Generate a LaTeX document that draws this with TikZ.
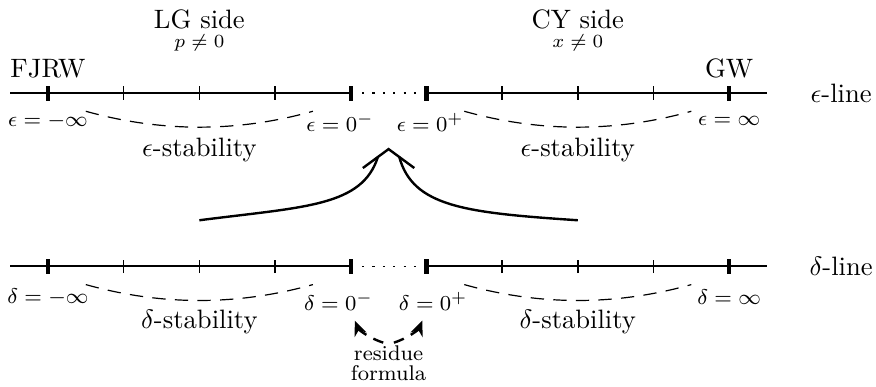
\documentclass[tikz,border=0pt]{standalone}
\usepackage{amsmath,amssymb}
\usepackage{tikz}
\usetikzlibrary{arrows.meta,positioning}
\tikzset{
  axisline/.style={line width=0.7pt},
  bigtick/.style={line width=1.6pt},
  smalltick/.style={line width=0.6pt},
  sidetitle/.style={inner sep=1pt},
  sidecond/.style={font=\scriptsize, inner sep=1pt},
  endlabel/.style={font=\footnotesize, inner sep=1pt},
  stablabel/.style={inner sep=1pt},
  stabarc/.style={line width=0.45pt, dash pattern=on 5pt off 3.5pt},
  gapdots/.style={line width=0.6pt, dash pattern=on 0.8pt off 3.1pt},
  mergecurve/.style={line width=0.9pt},
  resarrow/.style={line width=0.9pt, dash pattern=on 4pt off 3pt, shorten >=3pt, -{Stealth[length=2mm,width=1.7mm]}}
}

\begin{document}
\begin{tikzpicture}[node distance=0.1cm]
\useasboundingbox (-0.634,1.23) rectangle (10.94,-3.87);
\foreach \y in {0,-2.29}{
  \draw[axisline] (-0.5,\y) -- (4,\y);
  \draw[axisline] (5,\y) -- (9.5,\y);
  \draw[gapdots] (4.15,\y) -- (4.87,\y);
  \foreach \x in {0,4,5,9} \draw[bigtick] (\x,\y-0.1) -- (\x,\y+0.1);
  \foreach \x in {1,2,3,6,7,8} \draw[smalltick] (\x,\y-0.09) -- (\x,\y+0.09);
  \draw[stabarc] (0.5,\y-0.24) .. controls (1.5,\y-0.52) and (2.5,\y-0.52) .. (3.5,\y-0.24);
  \draw[stabarc] (5.5,\y-0.24) .. controls (6.5,\y-0.52) and (7.5,\y-0.52) .. (8.5,\y-0.24);
}
\node[sidetitle] (lg) at (2,0.98) {LG side};
\node[sidecond, below=0pt of lg] (lgcond) {$p\neq 0$};
\node[sidetitle] (cy) at (7,0.98) {CY side};
\node[sidecond, below=0pt of cy] (cycond) {$x\neq 0$};
\node[sidetitle, anchor=base] (fjrw) at (0,0.2) {FJRW};
\node[sidetitle, anchor=base] (gw) at (9,0.2) {GW};
\node (epsline) at (10.48,0) {$\epsilon$-line};
\node (delline) at (10.48,-2.29) {$\delta$-line};
\node[endlabel] (epsninf) at (0,-0.37) {$\epsilon=-\infty$};
\node[endlabel] (epszm) at (3.86,-0.39) {$\epsilon=0^-$};
\node[endlabel] (epszp) at (5.05,-0.39) {$\epsilon=0^+$};
\node[endlabel] (epsinf) at (9,-0.37) {$\epsilon=\infty$};
\node[endlabel] (delninf) at (0,-2.70) {$\delta=-\infty$};
\node[endlabel] (delzm) at (3.84,-2.75) {$\delta=0^-$};
\node[endlabel] (delzp) at (5.09,-2.75) {$\delta=0^+$};
\node[endlabel] (delinf) at (9,-2.70) {$\delta=\infty$};
\node[stablabel] (epsstabl) at (2,-0.75) {$\epsilon$-stability};
\node[stablabel] (epsstabr) at (7,-0.75) {$\epsilon$-stability};
\node[stablabel] (delstabl) at (2,-3.03) {$\delta$-stability};
\node[stablabel] (delstabr) at (7,-3.03) {$\delta$-stability};
\coordinate (apex) at (4.5,-0.74);
\coordinate (lfoot) at (2,-1.68);
\coordinate (rfoot) at (7,-1.68);
\coordinate (lhead) at (4.36,-0.84);
\coordinate (rhead) at (4.64,-0.84);
\draw[mergecurve] (lfoot) .. controls (3.4,-1.5) and (4.15,-1.5) .. (lhead);
\draw[mergecurve] (rfoot) .. controls (5.5,-1.58) and (4.82,-1.5) .. (rhead);
\draw[mergecurve] (4.16,-0.99) -- (apex) -- (4.84,-0.99);
\node[endlabel, align=center] (res) at (4.5,-3.57) {residue\\[-2pt]formula};
\draw[resarrow] ([xshift=-2pt]res.north) to[bend left=25] ([xshift=5pt]delzm.south);
\draw[resarrow] ([xshift=2pt]res.north) to[bend right=25] ([xshift=-3pt]delzp.south);
\end{tikzpicture}
\end{document}
